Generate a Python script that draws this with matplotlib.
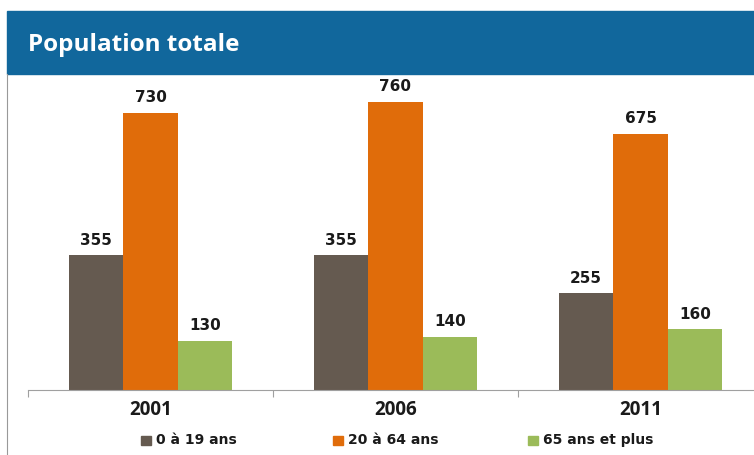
import numpy as np
import matplotlib.pyplot as plt
import matplotlib.patches as mpatches

# Données
annees = ['2001', '2006', '2011']
jeunes = [355, 355, 255]      # 0 à 19 ans
adultes = [730, 760, 675]     # 20 à 64 ans
aines = [130, 140, 160]       # 65 ans et plus
series = ['0 à 19 ans', '20 à 64 ans', '65 ans et plus']
couleurs = ['#655a50', '#e06c0a', '#9bbb59']

W, H = 754, 455
fig = plt.figure(figsize=(W / 100, H / 100), dpi=100)

# Bandeau du titre
fig.patches.append(mpatches.Rectangle((7 / W, 1 - 74 / H), 1, 63 / H,
                                      transform=fig.transFigure, color='#11679c', zorder=0))
fig.text(28 / W, 1 - 45 / H, 'Population totale', color='white', fontsize=17.5,
         fontweight='bold', family='Open Sans', va='center', ha='left')
fig.add_artist(plt.Line2D([7 / W, 7 / W], [0, 1 - 74 / H], color='#999999', lw=0.8))

# Zone du graphique (dépasse à droite, comme l'original rogné)
ax = fig.add_axes([28 / W, 1 - 390 / H, 735 / W, 310 / H])
x = np.arange(len(annees))
larg = 0.222
for i, (vals, c) in enumerate(zip([jeunes, adultes, aines], couleurs)):
    bars = ax.bar(x + (i - 1) * larg, vals, larg, color=c, label=series[i])
    for b, v in zip(bars, vals):
        ax.text(b.get_x() + b.get_width() / 2, v + 20, str(v), ha='center', va='bottom',
                fontsize=11, fontweight='bold', color='#1a1a1a', family='DejaVu Sans')

ax.set_xlim(-0.5, 2.5)
ax.set_ylim(0, 817)
for s in ['top', 'right', 'left']:
    ax.spines[s].set_visible(False)
ax.spines['bottom'].set_color('#a0a0a0')
ax.set_yticks([])
ax.set_xticks([-0.5, 0.5, 1.5, 2.5], minor=False)
ax.set_xticklabels([])
ax.tick_params(axis='x', length=5, color='#a0a0a0', direction='out')
for xi, a in zip(x, annees):
    ax.text(xi, -20 / 0.3795, a, ha='center', va='center', fontsize=13.5,
            fontweight='bold', family='Open Sans', color='#1a1a1a')

# Légende
leg_x = [141, 333, 528]
for lx, lab, c in zip(leg_x, series, couleurs):
    fig.patches.append(mpatches.Rectangle((lx / W, 1 - 445 / H), 10 / W, 9 / H,
                                          transform=fig.transFigure, color=c))
    fig.text((lx + 15) / W, 1 - 440 / H, lab, fontsize=10, fontweight='bold',
             family='DejaVu Sans', color='#1a1a1a', va='center', ha='left')

fig.savefig('out.png', dpi=100)
